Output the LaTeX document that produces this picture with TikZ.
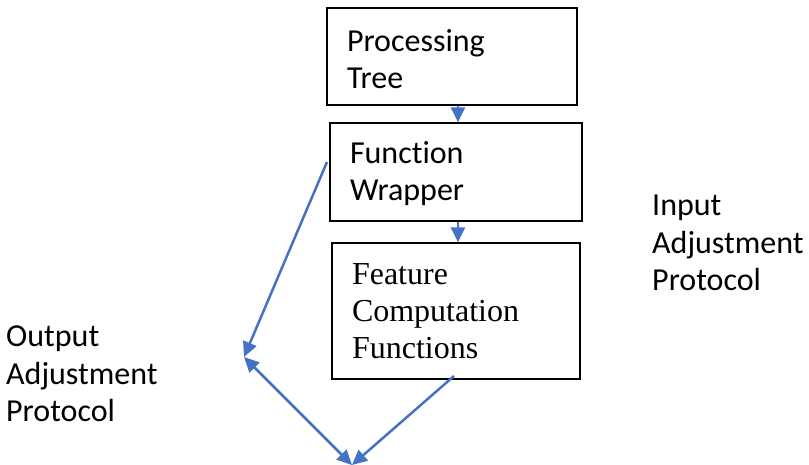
\documentclass[tikz,border=0pt]{standalone}
\usepackage{fontspec}
\setmainfont{Carlito}[Ligatures=NoCommon]
\newfontfamily\serifface{Liberation Serif}
\usetikzlibrary{arrows.meta}
\definecolor{linkblue}{RGB}{68,114,196}
\tikzset{
  box/.style={draw=black, line width=1.4pt, fill=white, align=left,
    inner xsep=20pt, inner ysep=0pt, anchor=center},
  label/.style={align=left, inner sep=0pt, anchor=west,
    font=\fontsize{32}{37.5}\selectfont},
  link/.style={draw=linkblue, line width=2.5pt, -{Triangle[length=15pt,width=14pt]}},
  dlink/.style={draw=linkblue, line width=2.5pt,
    {Triangle[length=15pt,width=14pt]}-{Triangle[length=15pt,width=14pt]}}
}
\begin{document}
\begin{tikzpicture}[x=1pt,y=-1pt]
  \useasboundingbox (0,0) rectangle (809,465);

  % processing chain
  \node[box, text width=210pt, minimum height=97pt,
        font=\fontsize{32}{37.5}\selectfont] (tree) at (452,56.5)
        {\rule{0pt}{27pt}Processing\\Tree};
  \node[box, text width=212pt, minimum height=98pt,
        font=\fontsize{32}{37}\selectfont] (wrap) at (456,172)
        {\rule{0pt}{25pt}Function\\Wrapper};
  \node[box, text width=208pt, minimum height=136pt,
        font=\serifface\fontsize{32}{37}\selectfont] (feat) at (456,311)
        {Feature\\Computation\\Functions};

  % side labels
  \node[label] (inp) at (652,243) {Input\\Adjustment\\Protocol};
  \node[label] (outp) at (6,374) {Output\\Adjustment\\Protocol};

  % free line ends
  \coordinate (wl) at (327,162);
  \coordinate (oa) at (244,357);
  \coordinate (bot) at (352,465);
  \coordinate (fb) at (454,376);

  % connectors
  \draw[link] ([xshift=6pt]tree.south) -- ([xshift=2pt]wrap.north);
  \draw[link] ([xshift=2pt]wrap.south) -- ([xshift=2pt]feat.north);
  \draw[link] (wl) -- (oa);
  \draw[dlink] (oa) -- (bot);
  \draw[link] (fb) -- (bot);
\end{tikzpicture}
\end{document}
